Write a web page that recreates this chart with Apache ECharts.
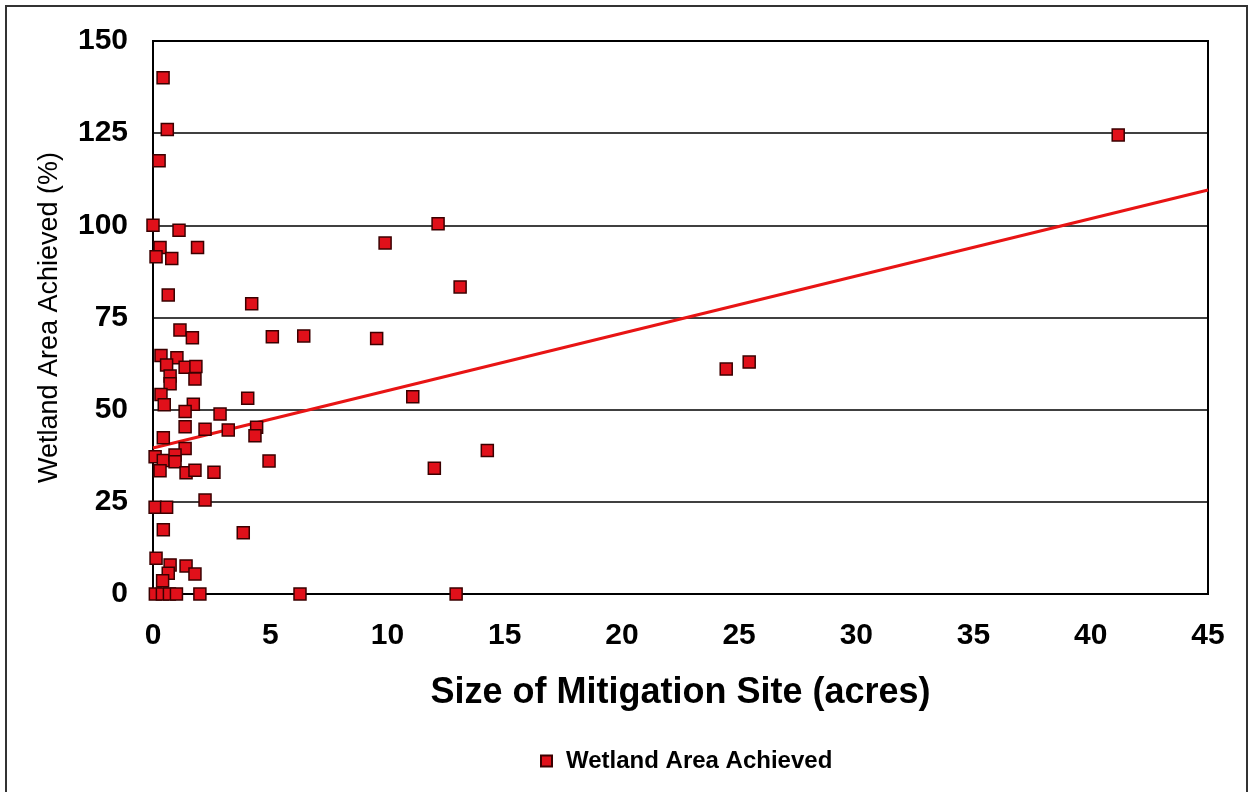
<!DOCTYPE html>
<html>
<head>
<meta charset="utf-8">
<script src="https://cdn.jsdelivr.net/npm/echarts@6/dist/echarts.min.js"></script>
<style>
html,body{margin:0;padding:0;background:#fff;}
#chart{width:1251px;height:792px;}
</style>
</head>
<body>
<div id="chart"></div>
<script>
const seriesName = 'Wetland Area Achieved';
const xTitle = 'Size of Mitigation Site (acres)';
const yTitle = 'Wetland Area Achieved (%)';

const sizeAcres = [0.43,0.61,0.26,0,1.11,0.30,1.9,0.13,0.8,12.16,9.9,41.17,13.1,0.65,4.21,1.15,1.68,5.09,6.43,9.54,
  0.34,1.02,0.58,1.37,1.83,0.73,0.73,1.79,4.04,0.34,0.48,1.72,1.37,2.86,1.37,2.22,3.21,4.42,4.35,0.44,
  1.37,0.09,0.44,0.94,0.94,0.30,1.41,1.79,2.6,4.95,11.08,12.0,14.26,24.45,25.43,0.09,0.58,2.22,0.44,3.85,
  0.13,0.73,1.41,0.65,1.79,0.41,0.1,0.4,0.7,1.0,2.0,6.27,12.93];
const areaAchieved = [140,126,117.5,100,98.7,94,94,91.5,91,100.4,95.2,124.5,83.3,81.1,78.7,71.6,69.5,69.8,70,69.3,
  64.7,64.1,62.1,61.5,61.7,59.1,57,58.3,53.1,54.1,51.3,51.5,49.5,48.8,45.4,44.7,44.5,45.2,42.9,42.4,
  39.5,37.2,36.2,37.7,35.9,33.4,32.9,33.6,33,36.1,53.5,34.1,38.9,61,62.9,23.5,23.5,25.5,17.4,16.6,
  9.7,7.9,7.6,5.6,5.4,3.6,0,0,0,0,0,0,0];
const trendX = [0,45];
const trendY = [39.6,109.6];

const scatterData = sizeAcres.map((x,i)=>[x, areaAchieved[i]]);
const trendData = trendX.map((x,i)=>[x, trendY[i]]);

const chart = echarts.init(document.getElementById('chart'));
chart.setOption({
  animation:false,
  backgroundColor:'#fff',
  graphic:[{type:'rect',shape:{x:6,y:6,width:1241,height:800},style:{fill:'none',stroke:'#333',lineWidth:2},silent:true}],
  grid:{left:153,right:43,top:41,bottom:198,show:true,borderColor:'#000',borderWidth:2,backgroundColor:'transparent'},
  legend:{
    data:[seriesName],left:535,top:744,itemWidth:11,itemHeight:11,
    icon:'rect',
    textStyle:{fontFamily:'Liberation Sans, Arial',fontWeight:'bold',fontSize:24,color:'#000',padding:[0,0,0,9]}
  },
  xAxis:{
    type:'value',min:0,max:45,interval:5,
    name:xTitle,nameLocation:'middle',nameGap:81,
    nameTextStyle:{fontFamily:'Liberation Sans, Arial',fontWeight:'bold',fontSize:36,color:'#000'},
    axisLine:{show:true,lineStyle:{color:'#000',width:2}},
    axisTick:{show:false},
    axisLabel:{margin:27,fontFamily:'Liberation Sans, Arial',fontWeight:'bold',fontSize:30,color:'#000'},
    splitLine:{show:false}
  },
  yAxis:{
    type:'value',min:0,max:150,interval:25,
    name:yTitle,nameLocation:'middle',nameGap:90,
    nameTextStyle:{fontFamily:'Liberation Sans, Arial',fontSize:27,color:'#000'},
    axisLine:{show:true,lineStyle:{color:'#000',width:2}},
    axisTick:{show:false},
    axisLabel:{margin:25,fontFamily:'Liberation Sans, Arial',fontWeight:'bold',fontSize:30,color:'#000'},
    splitLine:{show:true,lineStyle:{color:'#000',width:1.5}}
  },
  series:[
    {name:'Trend',type:'line',data:trendData,symbol:'none',z:2,
     lineStyle:{color:'#e81414',width:3},itemStyle:{color:'#e81414'}},
    {name:seriesName,type:'scatter',data:scatterData,symbol:'rect',symbolSize:12,z:3,
     itemStyle:{color:'#e0101a',borderColor:'#3a0000',borderWidth:1.5,opacity:1}}
  ]
});
</script>
</body>
</html>
